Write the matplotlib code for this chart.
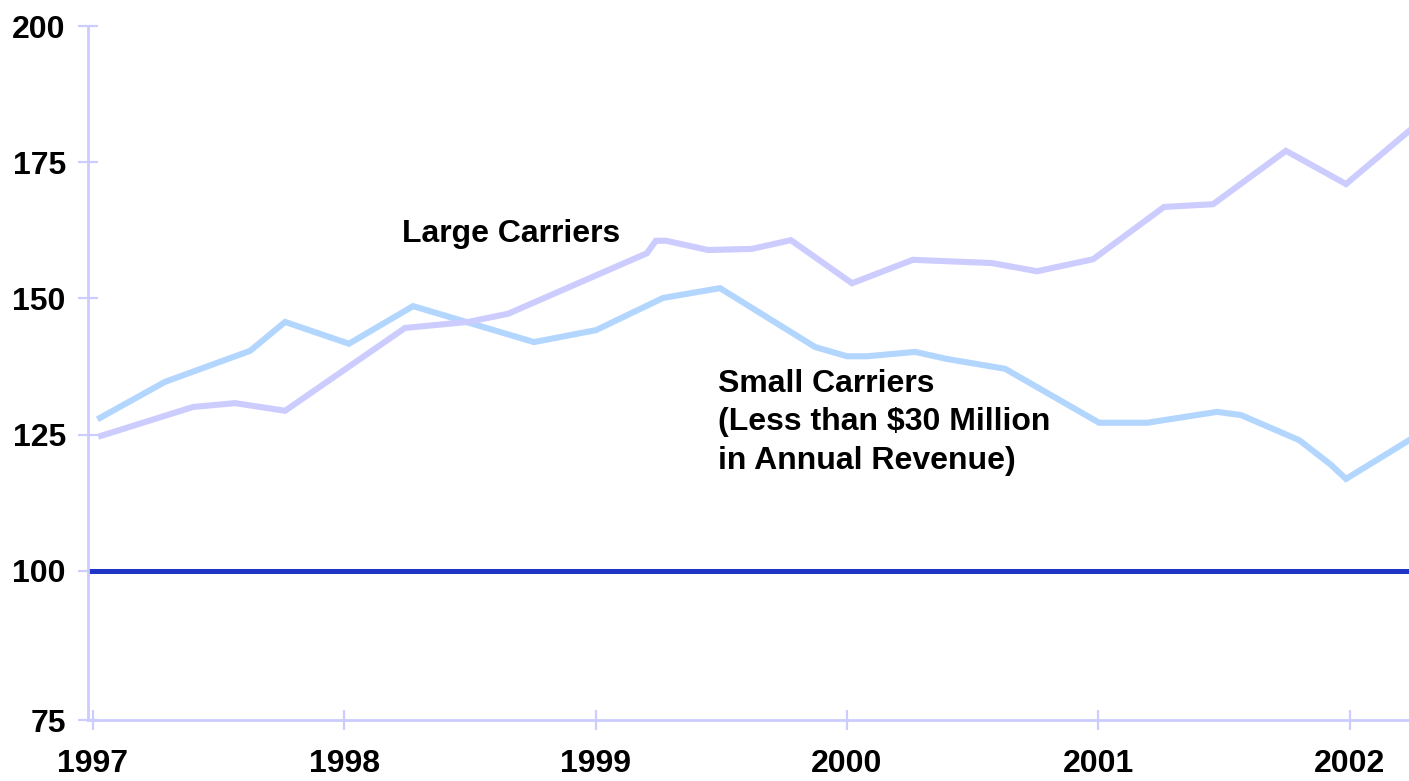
import matplotlib
matplotlib.use("Agg")
import matplotlib.pyplot as plt

# Index values (1997 = baseline 100)
large_t = [1997.033, 1997.399, 1997.566, 1997.765, 1998.242, 1998.493, 1998.652,
           1999.204, 1999.240, 1999.280, 1999.447, 1999.621, 1999.777, 2000.020,
           2000.262, 2000.577, 2000.756, 2000.979, 2001.261, 2001.456, 2001.746,
           2001.985, 2002.250]
large_v = [124.8, 130.1, 130.8, 129.4, 144.6, 145.7, 147.2,
           158.3, 160.6, 160.6, 158.9, 159.1, 160.7, 152.8,
           157.1, 156.5, 155.0, 157.2, 166.8, 167.3, 177.1,
           171.0, 181.3]

small_t = [1997.029, 1997.287, 1997.626, 1997.765, 1998.019, 1998.274, 1998.755,
           1999.002, 1999.268, 1999.495, 1999.873, 2000.000, 2000.080, 2000.271,
           2000.398, 2000.629, 2001.003, 2001.194, 2001.472, 2001.568, 2001.799,
           2001.922, 2001.985, 2002.250]
small_v = [128.1, 134.7, 140.4, 145.7, 141.7, 148.6, 142.0,
           144.2, 150.1, 151.9, 141.1, 139.4, 139.4, 140.2,
           138.9, 137.1, 127.2, 127.2, 129.2, 128.6, 124.0,
           119.6, 116.9, 124.4]

baseline = 100
year_ticks = [1997, 1998, 1999, 2000, 2001, 2002]
year_labels = ["1997", "1998", "1999", "2000", "2001", "2002"]
value_ticks = [100, 125, 150, 175, 200]
value_labels = ["100", "125", "150", "175", "200"]
bottom_label = "75"

large_label = "Large Carriers"
small_label = "Small Carriers\n(Less than $30 Million\nin Annual Revenue)"

AXIS_COLOR = "#ccccff"
LARGE_COLOR = "#ccccff"
SMALL_COLOR = "#b3d6ff"
BASE_COLOR = "#1f35c6"

plt.rcParams["font.family"] = ["Liberation Sans", "DejaVu Sans"]
plt.rcParams["font.weight"] = "bold"

fig = plt.figure(figsize=(14.09, 7.81), dpi=100)
ax = fig.add_axes([88 / 1409, 1 - 720 / 781, 1 - 88 / 1409, (720 - 26) / 781])

x_left, x_right = 1996.981, 2002.2355
y_bottom, y_top = 72.66, 200

ax.axhline(baseline, color=BASE_COLOR, lw=3.6, solid_capstyle="butt", zorder=2)
ax.plot(small_t, small_v, color=SMALL_COLOR, lw=4.4, solid_joinstyle="miter", zorder=3)
ax.plot(large_t, large_v, color=LARGE_COLOR, lw=4.4, solid_joinstyle="miter", zorder=3)

ax.set_xlim(x_left, x_right)
ax.set_ylim(y_bottom, y_top)

for side in ("top", "right"):
    ax.spines[side].set_visible(False)
for side in ("left", "bottom"):
    ax.spines[side].set_color(AXIS_COLOR)
    ax.spines[side].set_linewidth(2)

ax.set_xticks(year_ticks)
ax.set_xticklabels(year_labels)
ax.set_yticks([y_bottom] + value_ticks)
ax.set_yticklabels([bottom_label] + value_labels)

ax.tick_params(axis="both", direction="inout", length=14, width=1.6,
               color=AXIS_COLOR, labelsize=23, labelcolor="black")
ax.tick_params(axis="x", pad=14)
ax.tick_params(axis="y", pad=9)
for lbl in ax.get_xticklabels() + ax.get_yticklabels():
    lbl.set_fontweight("bold")

ax.text(1998.230, 161.9, large_label, fontsize=23, fontweight="bold",
        ha="left", va="center", color="black")
ax.text(1999.486, 127.25, small_label, fontsize=23, fontweight="bold",
        ha="left", va="center", color="black", linespacing=1.37)

fig.savefig("out.png", dpi=100, facecolor="white")
